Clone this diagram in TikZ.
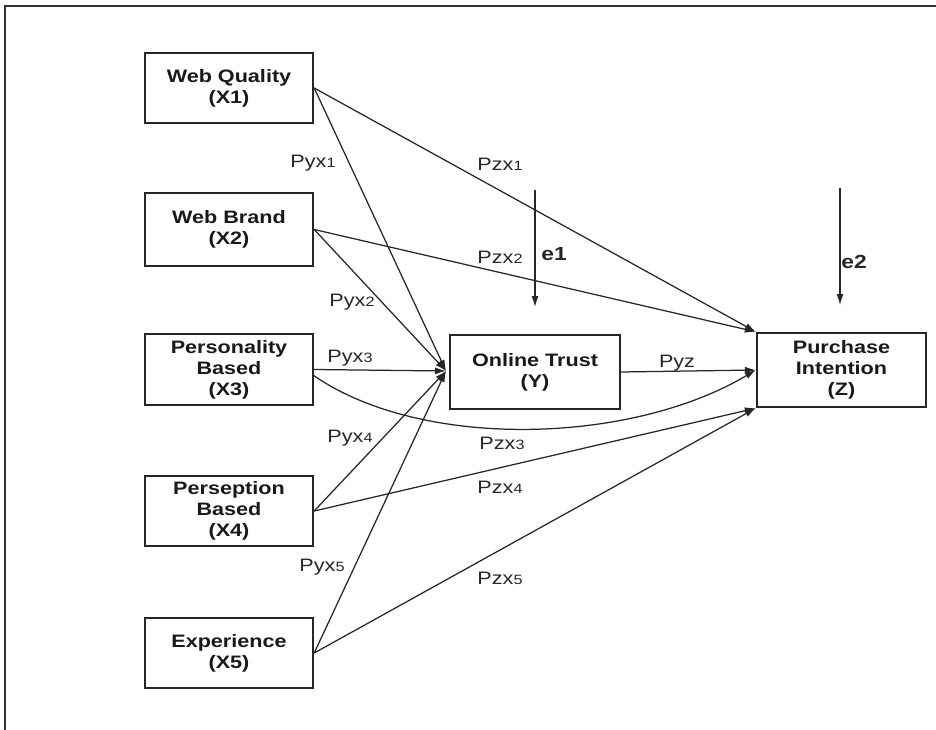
\documentclass[tikz,border=0pt]{standalone}
\usepackage{fontspec}
\setmainfont{Liberation Sans}[FakeStretch=1.2]
\usetikzlibrary{arrows.meta}
\tikzset{
  varbox/.style={draw=black!85, line width=2.4pt, fill=white, align=center,
    font=\fontsize{18}{21}\selectfont\bfseries, inner sep=0pt, text=black!90},
  path/.style={draw=black!85, line width=1.25pt, -{Latex[length=11pt,width=7pt]}},
  coef/.style={font=\fontsize{18}{20}\selectfont, inner sep=0pt, text=black!85},
  errlab/.style={font=\fontsize{19}{20}\selectfont\bfseries, inner sep=0pt, text=black!85},
}
\newcommand{\subnum}[1]{{\fontsize{13.5}{14}\selectfont #1}}
\begin{document}
\begin{tikzpicture}[x=1pt,y=-1pt]
\useasboundingbox (0,0) rectangle (936,730);
% outer frame (partial)
\draw[line width=1.6pt, black!80] (5,730) -- (5,6) -- (936,6);

% boxes
\node[varbox, minimum width=168pt, minimum height=70pt] (x1) at (229,88) {Web Quality\\(X1)};
\node[varbox, minimum width=168pt, minimum height=73pt] (x2) at (229,229.5) {Web Brand\\(X2)};
\node[varbox, minimum width=168pt, minimum height=71pt] (x3) at (229,369.5) {Personality\\Based\\(X3)};
\node[varbox, minimum width=168pt, minimum height=70pt] (x4) at (229,511) {Perseption\\Based\\(X4)};
\node[varbox, minimum width=168pt, minimum height=70pt] (x5) at (229,653) {Experience\\(X5)};
\node[varbox, minimum width=170pt, minimum height=74pt] (y) at (535,372) {Online Trust\\(Y)};
\node[varbox, minimum width=169pt, minimum height=74pt] (z) at (841.5,370) {Purchase\\Intention\\(Z)};

% converge point at Y
\coordinate (yin) at (446,371);
\coordinate (x3c) at (313,375);

% paths to Y
\draw[path] (x1.east) -- (yin);
\draw[path] (x2.east) -- (yin);
\draw[path] (x3.east) -- (yin);
\draw[path] (x4.east) -- (yin);
\draw[path] (x5.east) -- (yin);

% paths to Z
\draw[path] (x1.east) -- (z.north west);
\draw[path] (x2.east) -- (z.north west);
\draw[path] (x3c) .. controls (420,450) and (630,445) .. (z.west);
\draw[path] (x4.east) -- (z.south west);
\draw[path] (x5.east) -- (z.south west);
\draw[path] (y.east) -- (z.west);

% error terms
\coordinate (e1s) at (535,190);
\coordinate (e1e) at (535,307);
\coordinate (e2s) at (840,188);
\coordinate (e2e) at (840,305);
\draw[path] (e1s) -- (e1e);
\draw[path] (e2s) -- (e2e);
\node[errlab] (le1) at (554,254) {e1};
\node[errlab] (le2) at (854,262) {e2};

% coefficient labels
\node[coef] (pyx1) at (313,163) {Pyx\subnum{1}};
\node[coef] (pzx1) at (500,164) {Pzx\subnum{1}};
\node[coef] (pzx2) at (500,257) {Pzx\subnum{2}};
\node[coef] (pyx2) at (352,302) {Pyx\subnum{2}};
\node[coef] (pyx3) at (350,358) {Pyx\subnum{3}};
\node[coef] (pyz) at (677,363) {Pyz};
\node[coef] (pyx4) at (350,438) {Pyx\subnum{4}};
\node[coef] (pzx3) at (502,443) {Pzx\subnum{3}};
\node[coef] (pzx4) at (500,487) {Pzx\subnum{4}};
\node[coef] (pyx5) at (322,567) {Pyx\subnum{5}};
\node[coef] (pzx5) at (500,578) {Pzx\subnum{5}};
\end{tikzpicture}
\end{document}
